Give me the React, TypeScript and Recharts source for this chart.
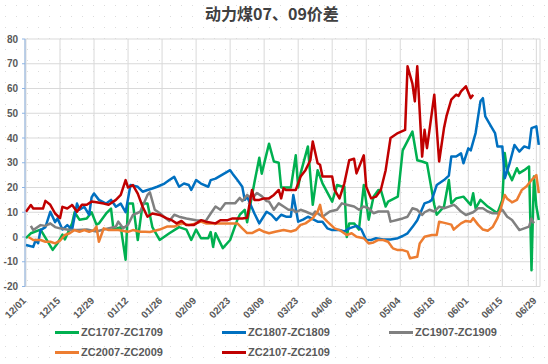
import { LineChart, Line, XAxis, YAxis, CartesianGrid } from 'recharts';

// x = days since 12/01 (seasonal overlay, each contract year on the same calendar)
const tickDays = [0, 14, 28, 42, 56, 70, 84, 98, 112, 126, 140, 154, 168, 182, 196, 210];
const tickLabels = ['12/01', '12/15', '12/29', '01/12', '01/26', '02/09', '02/23', '03/09',
  '03/23', '04/06', '04/20', '05/04', '05/18', '06/01', '06/15', '06/29'];
const yTicks = [-20, -10, 0, 10, 20, 30, 40, 50, 60, 70, 80];

const zc1707: [number, number][] = [
  [0, -0.5], [2, 1.5], [6, 3], [11, -5.2], [13, -2.5], [15, 1], [16, -1], [19, 5.5], [20, 10],
  [22, 7], [25, 7.5], [27, 10], [29, 5], [30, 5.5], [33, 9.5], [35, 11.5], [36, 3], [39, 4],
  [41, -9.2], [42, 13.5], [44, 13.5], [46, -1.2], [48, 13.5], [50, 13.5], [52, 4], [55, -1.2],
  [59, 1.5], [63, 4], [66, 3], [68, -1.2], [70, 3], [72, -0.5], [75, -0.5], [76, 2], [77, -4],
  [78, 1.5], [81, -4.5], [84, -1.2], [87, 7], [88, 9], [90, 11], [91, 6], [94, 22], [96, 32],
  [97, 25.6], [99, 33.7], [100, 37.7], [102, 30.5], [104, 30], [105, 20], [107, 20], [109, 20],
  [111, 33], [112, 20], [113, 25.7], [116, 36.6], [118, 13], [120, 27], [122, 21.7], [126, 14.3],
  [128, 21], [130, 20.4], [131, 20.4], [132, 0], [133, 5.5], [135, 5.5], [137, 3], [139, 21],
  [141, 7], [143, 16.3], [145, 19], [146, 19], [148, 12.3], [149, 14.3], [153, 16.3], [155, 35],
  [159, 42.6], [161, 31], [163, 30.5], [165, 29.8], [168, 13], [169, 9], [172, 12.3], [174, 23],
  [175, 13.6], [177, 15.6], [180, 16.3], [183, 13], [184, 17.7], [185, 11.6], [187, 15],
  [190, 12.3], [194, 9.6], [196, 15], [197, 33.9], [198, 27], [200, 23], [202, 27.8], [203, 25.8],
  [205, 27], [207, 28.5], [208, -13.4], [209, 24.4], [210, 12.3], [211, 6.9],
];

const zc1807: [number, number][] = [
  [0, -3.2], [3, -4], [4, -1.2], [5, -2.5], [6, 2.8], [8, 4], [10, 10.2], [12, 6], [13, 7.5],
  [15, 3], [17, 4.8], [19, 3], [21, 13.5], [22, 11], [24, 12.2], [26, 9], [27, 16], [28, 17.6],
  [30, 15], [33, 13.5], [35, 15], [37, 12.2], [39, 13.5], [41, 10], [43, 21], [46, 20.3],
  [48, 18.3], [50, 19], [52, 19.6], [54, 20.3], [57, 21.6], [59, 23], [61, 24.3], [63, 20.3],
  [65, 21.6], [67, 21], [68, 19], [70, 23], [72, 21.6], [75, 20.3], [76, 23], [78, 23.6],
  [84, 27], [85, 25.6], [87, 23], [89, 20.3], [90, 15], [91, 16.3], [94, 9.5], [96, 5.5],
  [99, 10.2], [101, 9], [103, 6.8], [105, 9], [107, 8.2], [109, 8.2], [110, 17], [112, 6.2],
  [114, 7], [116, 8.2], [120, 6.2], [122, 6.2], [124, 3.5], [126, 2.8], [129, 2.8], [131, 2.2],
  [133, 3.5], [136, 4.5], [138, 3], [140, -1.2], [142, -1.2], [144, -0.5], [147, -1], [150, -1],
  [153, -0.5], [155, 0.4], [157, 1.5], [159, 4], [161, 6.8], [164, 13.6], [166, 14.3], [167, 15],
  [169, 21], [172, 23], [174, 24.8], [175, 32.5], [177, 32.5], [179, 33.8], [180, 29.8],
  [182, 35.8], [183, 35], [185, 42], [187, 54.8], [188, 56.1], [189, 48.7], [191, 45.3],
  [193, 42], [194, 36.6], [196, 36.6], [197, 23.7], [199, 29.8], [201, 37.2], [203, 34.5],
  [205, 36.6], [207, 35.9], [208, 44], [210, 44.7], [211, 37.2],
];

const zc1907: [number, number][] = [
  [2, 4.5], [3, 2.8], [6, 4.8], [8, 4.5], [10, 5.5], [12, 4], [14, 3.5], [18, 2.8], [21, 2.8],
  [25, 3], [29, 2.2], [32, 3], [37, 4.2], [38, 6.2], [40, 3.5], [42, 5], [44, 8.9], [47, 10.2],
  [50, 17], [51, 18], [53, 11], [55, 9.7], [57, 8], [59, 6.5], [61, 9], [63, 8.2], [66, 7.5],
  [70, 6.8], [74, 6.5], [76, 9.5], [78, 12.3], [80, 11], [82, 13.6], [86, 13.6], [88, 15.8],
  [89, 14.5], [91, 17], [93, 15.5], [95, 17.8], [97, 16.5], [99, 14.5], [100, 14.3], [102, 11],
  [104, 13.6], [106, 12.3], [108, 11], [110, 11], [111, 10], [113, 11], [115, 10.3], [118, 9],
  [119, 10.3], [122, 8.2], [125, 10.3], [128, 11], [130, 13.6], [132, 13], [135, 12.3],
  [137, 11], [139, 12.3], [141, 11.6], [143, 9.6], [145, 10.3], [147, 10.3], [149, 10.3],
  [150, 6.2], [153, 7], [155, 7.5], [157, 8.2], [159, 11.6], [161, 11], [163, 8.9], [164, 10],
  [166, 11], [168, 10.3], [170, 12.3], [172, 11.6], [174, 12.3], [176, 13], [177, 12.3],
  [179, 10.3], [181, 8.9], [184, 10], [186, 11.6], [188, 11.6], [190, 10.3], [192, 9.6],
  [194, 9.6], [196, 11], [198, 8.2], [200, 6.9], [203, 2.8], [205, 3.5], [207, 4.2], [208, 7.5],
  [209, 5.5],
];

const zc2007: [number, number][] = [
  [1, 0], [3, -1.2], [6, -1.2], [8, -1.9], [10, -1.9], [12, -2.6], [14, -1.5], [16, 0.8],
  [18, 1.5], [20, 2.8], [22, 2.1], [24, 2.8], [26, 2.1], [28, 2.8], [29, 4.2], [30, -1.9],
  [32, 3.5], [34, 2.8], [38, 2.8], [42, 2.1], [44, 2.8], [47, 2.1], [49, 2.1], [51, 2], [55, 3],
  [58, 4.2], [61, 4.2], [64, 5.5], [67, 4.8], [70, 5.5], [72, 6.2], [74, 5.5], [78, 5.5],
  [83, 5.5], [87, 5.5], [89, 3.5], [91, 1.6], [93, 1.6], [96, 3.1], [98, 2.1], [100, 1.5],
  [103, 2.2], [106, 2.8], [109, 2.2], [111, 2.8], [113, 4.9], [115, 5.5], [118, 7.6], [120, 10.3],
  [121, 13], [122, 8.2], [124, 6.2], [127, 3.5], [129, 2.8], [132, 0.8], [134, 1.5], [136, 0.1],
  [139, -0.5], [141, -2.6], [143, -2.2], [145, -1.2], [147, -1.2], [149, -1.9], [151, -4.6],
  [153, -5.3], [155, -5.3], [157, -5.9], [158, -8.6], [161, -8], [162, -2.6], [164, 0.1],
  [167, 0.8], [169, 0.8], [170, 6.2], [173, 5.5], [175, 5], [176, 3], [179, 5.5], [181, 6.5],
  [183, 6.2], [184, 7.6], [186, 5], [188, 3], [190, 2.5], [192, 4], [194, 7.6], [195, 10.3],
  [197, 17], [198, 15.5], [200, 14], [202, 15], [204, 19], [206, 20.5], [208, 23], [210, 25],
  [211, 17.7],
];

const zc2107: [number, number][] = [
  [0, 10.2], [2, 12.9], [3, 11.5], [7, 11.5], [8, 14.6], [10, 13], [12, 9.5], [14, 7.6],
  [15, 12.2], [17, 11.5], [19, 12.9], [21, 10.2], [23, 13], [25, 13], [27, 14.3], [29, 14],
  [32, 13.5], [34, 13], [37, 15], [39, 17], [41, 23], [42, 20], [44, 21], [46, 17.5], [48, 12.2],
  [50, 8.2], [52, 9.5], [55, 8.9], [58, 7.5], [60, 6.8], [62, 5.5], [64, 6.5], [66, 4.8],
  [69, 4.8], [72, 6.8], [74, 6.2], [78, 5.5], [80, 6.8], [83, 6.8], [85, 7.5], [89, 7.5],
  [91, 7.8], [93, 19], [94, 15], [96, 15], [98, 15.6], [100, 15.6], [102, 17], [104, 19],
  [105, 15.6], [106, 19.7], [107, 19], [109, 19], [111, 19], [113, 24.4], [115, 27], [117, 31],
  [118, 38.6], [120, 29.8], [121, 29.2], [122, 24.4], [126, 24.4], [127, 19], [129, 15.6],
  [131, 21.7], [133, 31], [135, 31.6], [136, 25.7], [139, 33], [140, 20.3], [142, 15.6],
  [144, 16.3], [146, 19], [148, 27], [150, 40], [153, 42], [156, 43.3], [157, 69], [159, 62],
  [160, 54.8], [161, 69], [163, 32.5], [164, 43.3], [165, 35.9], [166, 43], [168, 57.5],
  [170, 30.5], [172, 44], [173, 48.7], [175, 55.5], [177, 57.5], [178, 57], [179, 58.8],
  [181, 60.9], [183, 56.1], [184, 57.5],
];

const seriesNames = ['ZC1707-ZC1709', 'ZC1807-ZC1809', 'ZC1907-ZC1909', 'ZC2007-ZC2009', 'ZC2107-ZC2109'];
const seriesColors = ['#00B050', '#0070C0', '#808080', '#ED7D31', '#C00000'];
const seriesData = [zc1707, zc1807, zc1907, zc2007, zc2107];

const labelFont = '"Liberation Sans", Arial, sans-serif';

function DateTick({ x, y, payload }: any) {
  const i = tickDays.indexOf(payload.value);
  return (
    <g transform={`translate(${x - 2},${y + 4})`}>
      <text transform="rotate(-45)" textAnchor="end" dy={4} fontSize={10} fontWeight="bold"
        fill="#595959" fontFamily={labelFont}>
        {i >= 0 ? tickLabels[i] : ''}
      </text>
    </g>
  );
}

const legendPos = [
  { left: 55, top: 324 }, { left: 222, top: 324 }, { left: 389, top: 324 },
  { left: 55, top: 344 }, { left: 222, top: 344 },
];

export default function App() {
  return (
    <div style={{
      position: 'absolute', left: 0, top: 0, width: 548, height: 364, background: '#fff',
      backgroundImage: 'radial-gradient(#dcdcdc 0.7px, transparent 0.9px)',
      backgroundSize: '11px 11px', fontFamily: labelFont,
    }}>
      <div style={{
        position: 'absolute', left: 0, top: 3, width: 544, textAlign: 'center', fontSize: 16,
        fontWeight: 'bold', color: '#404040', fontFamily: '"Noto Sans CJK SC", sans-serif',
        lineHeight: '20px',
      }}>
        动力煤07、09价差
      </div>
      <LineChart width={548} height={364} margin={{ top: 39, right: 8, left: 0, bottom: 0 }}
        style={{ position: 'absolute', left: 0, top: 0 }}>
        <CartesianGrid stroke="#d9d9d9" strokeWidth={1} />
        <XAxis type="number" dataKey="day" domain={[-0.4, 211.5]} ticks={tickDays}
          allowDataOverflow interval={0} height={77.5} axisLine={{ stroke: '#d9d9d9' }}
          tickLine={false} tick={<DateTick />} />
        <YAxis type="number" domain={[-20, 80]} ticks={yTicks} width={25} interval={0}
          axisLine={{ stroke: '#8EB4E3' }} tickLine={{ stroke: '#8EB4E3' }} tickSize={3}
          tickMargin={4}
          tick={{ fontSize: 10, fontWeight: 'bold', fill: '#595959', fontFamily: labelFont }} />
        {seriesData.map((s, i) => (
          <Line key={seriesNames[i]} data={s.map(([day, v]) => ({ day, v }))} dataKey="v"
            name={seriesNames[i]} stroke={seriesColors[i]} strokeWidth={2.5} dot={false}
            type="linear" isAnimationActive={false} strokeLinejoin="round" />
        ))}
      </LineChart>
      {seriesNames.map((n, i) => (
        <div key={n} style={{
          position: 'absolute', left: legendPos[i].left, top: legendPos[i].top, display: 'flex',
          alignItems: 'center', fontSize: 11, fontWeight: 'bold', color: '#595959', height: 16,
        }}>
          <span style={{ display: 'inline-block', width: 24, height: 3, background: seriesColors[i], marginRight: 2 }} />
          {n}
        </div>
      ))}
    </div>
  );
}
